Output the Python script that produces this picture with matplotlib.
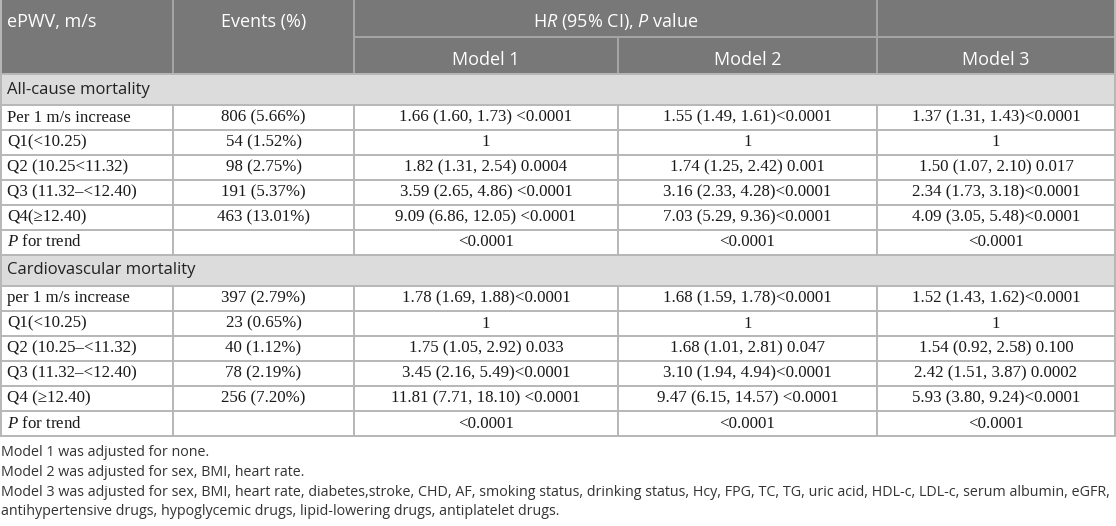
import matplotlib
matplotlib.use("Agg")
import matplotlib.pyplot as plt
from matplotlib.patches import Rectangle

plt.rcParams['mathtext.fontset'] = 'custom'
plt.rcParams['mathtext.it'] = 'Open Sans:italic'
plt.rcParams['mathtext.sf'] = 'Liberation Serif:italic'

# --- table content ---
col_heads = ["ePWV, m/s", "Events (%)"]
hr_head = r"H$\mathit{R}$ (95% CI), $\mathit{P}$ value"
model_heads = ["Model 1", "Model 2", "Model 3"]

groups = ["All-cause mortality", "Cardiovascular mortality"]

labels_all = ["Per 1 m/s increase", "Q1(<10.25)", "Q2 (10.25<11.32)",
              "Q3 (11.32\u2013<12.40)", "Q4(\u226512.40)", r"$\mathsf{P}$ for trend"]
events_all = ["806 (5.66%)", "54 (1.52%)", "98 (2.75%)", "191 (5.37%)", "463 (13.01%)", ""]
m1_all = ["1.66 (1.60, 1.73) <0.0001", "1", "1.82 (1.31, 2.54) 0.0004",
          "3.59 (2.65, 4.86) <0.0001", "9.09 (6.86, 12.05) <0.0001", "<0.0001"]
m2_all = ["1.55 (1.49, 1.61)<0.0001", "1", "1.74 (1.25, 2.42) 0.001",
          "3.16 (2.33, 4.28)<0.0001", "7.03 (5.29, 9.36)<0.0001", "<0.0001"]
m3_all = ["1.37 (1.31, 1.43)<0.0001", "1", "1.50 (1.07, 2.10) 0.017",
          "2.34 (1.73, 3.18)<0.0001", "4.09 (3.05, 5.48)<0.0001", "<0.0001"]

labels_cv = ["per 1 m/s increase", "Q1(<10.25)", "Q2 (10.25\u2013<11.32)",
             "Q3 (11.32\u2013<12.40)", "Q4 (\u226512.40)", r"$\mathsf{P}$ for trend"]
events_cv = ["397 (2.79%)", "23 (0.65%)", "40 (1.12%)", "78 (2.19%)", "256 (7.20%)", ""]
m1_cv = ["1.78 (1.69, 1.88)<0.0001", "1", "1.75 (1.05, 2.92) 0.033",
         "3.45 (2.16, 5.49)<0.0001", "11.81 (7.71, 18.10) <0.0001", "<0.0001"]
m2_cv = ["1.68 (1.59, 1.78)<0.0001", "1", "1.68 (1.01, 2.81) 0.047",
         "3.10 (1.94, 4.94)<0.0001", "9.47 (6.15, 14.57) <0.0001", "<0.0001"]
m3_cv = ["1.52 (1.43, 1.62)<0.0001", "1", "1.54 (0.92, 2.58) 0.100",
         "2.42 (1.51, 3.87) 0.0002", "5.93 (3.80, 9.24)<0.0001", "<0.0001"]

footnotes = [
    "Model 1 was adjusted for none.",
    "Model 2 was adjusted for sex, BMI, heart rate.",
    "Model 3 was adjusted for sex, BMI, heart rate, diabetes,stroke, CHD, AF, smoking status, "
    "drinking status, Hcy, FPG, TC, TG, uric acid, HDL-c, LDL-c, serum albumin, eGFR,",
    "antihypertensive drugs, hypoglycemic drugs, lipid-lowering drugs, antiplatelet drugs.",
]

# --- layout (pixels) ---
W, H = 1116, 526
xs = [0, 173, 354, 618, 877, 1115]
h_head = 37
h_group = 31
h_row = 25
head_bg = "#787878"
group_bg = "#dcdcdc"
line_c = "#b7b7b7"
head_line = "#a6a6a6"
sans = "Open Sans"
serif = "Liberation Serif"

fig = plt.figure(figsize=(W / 100, H / 100), dpi=100)
ax = fig.add_axes([0, 0, 1, 1])
ax.set_xlim(0, W)
ax.set_ylim(H, 0)
ax.axis("off")

# header
ax.add_patch(Rectangle((0, 0), xs[-1], 2 * h_head, color=head_bg, lw=0))
ax.plot([xs[2], xs[5]], [h_head, h_head], color=head_line, lw=1.4)
for x in xs[1:5]:
    y0 = h_head if x == xs[3] else 0
    ax.plot([x, x], [y0, 2 * h_head], color=head_line, lw=1.4)
ax.text(7, 22, col_heads[0], fontsize=13, family=sans, color="white", va="center")
ax.text((xs[1] + xs[2]) / 2, 22, col_heads[1], fontsize=13, family=sans, color="white",
        va="center", ha="center")
ax.text((xs[2] + xs[4]) / 2, 22, hr_head, fontsize=13, family=sans, color="white",
        va="center", ha="center")
for i, m in enumerate(model_heads):
    ax.text((xs[i + 2] + xs[i + 3]) / 2, 60, m, fontsize=13, family=sans, color="white",
            va="center", ha="center")

blocks = [
    (groups[0], labels_all, events_all, m1_all, m2_all, m3_all),
    (groups[1], labels_cv, events_cv, m1_cv, m2_cv, m3_cv),
]
y = 2 * h_head
for g, labs, ev, m1, m2, m3 in blocks:
    ax.add_patch(Rectangle((0, y), xs[-1], h_group, color=group_bg, lw=0))
    ax.text(7, y + h_group / 2, g, fontsize=12, family=sans, color="#222222", va="center")
    ax.plot([0, xs[-1]], [y, y], color=line_c, lw=1.4)
    y += h_group
    ax.plot([0, xs[-1]], [y, y], color=line_c, lw=1.4)
    for r in range(len(labs)):
        cells = [labs[r], ev[r], m1[r], m2[r], m3[r]]
        yc = y + h_row / 2
        ax.text(7, yc, cells[0], fontsize=12.2, family=serif, color="#1a1a1a", va="center")
        for c in range(1, 5):
            ax.text((xs[c] + xs[c + 1]) / 2, yc, cells[c], fontsize=12.2, family=serif,
                    color="#1a1a1a", va="center", ha="center")
        for x in xs[1:5]:
            ax.plot([x, x], [y, y + h_row], color=line_c, lw=1.4)
        y += h_row
        ax.plot([0, xs[-1]], [y, y], color=line_c, lw=1.4)
table_bottom = y

# outer border
ax.plot([0.7, 0.7], [0, table_bottom], color=line_c, lw=1.4)
ax.plot([xs[-1], xs[-1]], [0, table_bottom], color=line_c, lw=1.4)

for i, f in enumerate(footnotes):
    ax.text(1, 453 + i * 19.5, f, fontsize=10.25, family=sans, color="#333333", va="center")

fig.savefig("out.png", dpi=100)
